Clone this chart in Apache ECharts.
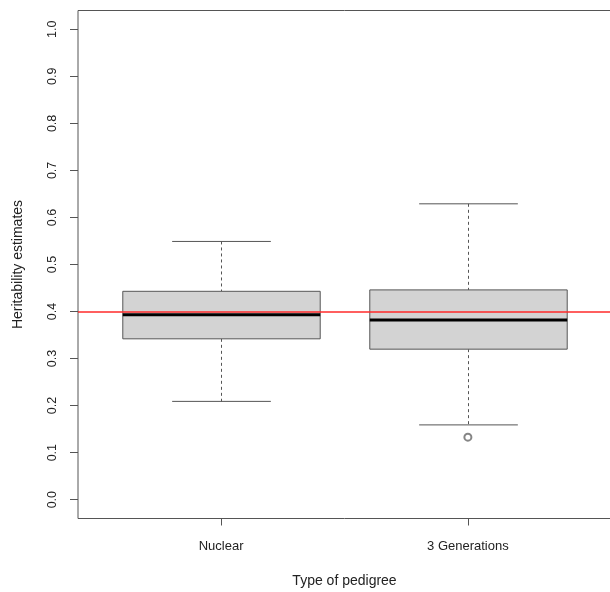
<!DOCTYPE html>
<html>
<head>
<meta charset="utf-8">
<script src="https://cdn.jsdelivr.net/npm/echarts@6/dist/echarts.min.js"></script>
<style>html,body{margin:0;padding:0;background:#fff}#c{width:610px;height:592px}</style>
</head>
<body>
<div id="c"></div>
<script>
var categories = ['Nuclear', '3 Generations'];
var whiskerLow = [0.209, 0.159];
var q1 = [0.342, 0.320];
var median = [0.393, 0.382];
var q3 = [0.443, 0.446];
var whiskerHigh = [0.549, 0.629];
var outliers = [[2, 0.133]];
var referenceValue = 0.4;
var yTicks = [0.0, 0.1, 0.2, 0.3, 0.4, 0.5, 0.6, 0.7, 0.8, 0.9, 1.0];

var boxData = categories.map(function (c, i) {
  return [i + 1, whiskerLow[i], q1[i], median[i], q3[i], whiskerHigh[i]];
});

var FONT = 'Liberation Sans, Arial, sans-serif';
var chart = echarts.init(document.getElementById('c'), null, {renderer: 'canvas'});

function renderBox(params, api) {
  var x = api.value(0);
  var lo = api.coord([x, api.value(1)]);
  var b1 = api.coord([x, api.value(2)]);
  var md = api.coord([x, api.value(3)]);
  var b3 = api.coord([x, api.value(4)]);
  var hi = api.coord([x, api.value(5)]);
  var bw = api.size([0.8, 0])[0];
  var cw = api.size([0.4, 0])[0];
  var cx = Math.round(lo[0]) + 0.5;
  var lineCol = '#555';
  return {
    type: 'group',
    children: [
      {type: 'line', shape: {x1: cx, y1: hi[1], x2: cx, y2: b3[1]}, style: {stroke: lineCol, lineWidth: 1, lineDash: [3, 3]}},
      {type: 'line', shape: {x1: cx, y1: b1[1], x2: cx, y2: lo[1]}, style: {stroke: lineCol, lineWidth: 1, lineDash: [3, 3]}},
      {type: 'line', shape: {x1: cx - cw / 2, y1: hi[1], x2: cx + cw / 2, y2: hi[1]}, style: {stroke: lineCol, lineWidth: 1}},
      {type: 'line', shape: {x1: cx - cw / 2, y1: lo[1], x2: cx + cw / 2, y2: lo[1]}, style: {stroke: lineCol, lineWidth: 1}},
      {type: 'rect', shape: {x: cx - bw / 2, y: b3[1], width: bw, height: b1[1] - b3[1]}, style: {fill: '#d3d3d3', stroke: lineCol, lineWidth: 1}},
      {type: 'line', shape: {x1: cx - bw / 2, y1: md[1], x2: cx + bw / 2, y2: md[1]}, style: {stroke: '#000', lineWidth: 3}}
    ]
  };
}

chart.setOption({
  animation: false,
  backgroundColor: '#fff',
  grid: {left: 78, top: 10.5, width: 533, height: 508, show: true, borderColor: '#555', borderWidth: 1,
         containLabel: false, outerBoundsMode: 'none'},
  xAxis: {
    type: 'value', min: 0.42, max: 2.58,
    axisLine: {show: false, onZero: false},
    splitLine: {show: false},
    axisTick: {show: true, customValues: [1, 2], length: 7, lineStyle: {color: '#555'}},
    axisLabel: {
      customValues: [1, 2], margin: 21, fontSize: 13, color: '#222', fontFamily: FONT,
      formatter: function (v) { return categories[Math.round(v) - 1] || ''; }
    },
    name: 'Type of pedigree', nameLocation: 'middle', nameGap: 56,
    nameTextStyle: {fontSize: 14, color: '#222', fontFamily: FONT}
  },
  yAxis: {
    type: 'value', min: -0.04, max: 1.04,
    axisLine: {show: false, onZero: false},
    splitLine: {show: false},
    axisTick: {show: true, customValues: yTicks, length: 8, lineStyle: {color: '#555'}},
    axisLabel: {
      customValues: yTicks, rotate: 90, margin: 19, fontSize: 12.5, color: '#222', fontFamily: FONT,
      formatter: function (v) { return v.toFixed(1); }
    },
    name: 'Heritability estimates', nameLocation: 'middle', nameRotate: 90, nameGap: 53,
    nameTextStyle: {fontSize: 14, color: '#222', fontFamily: FONT}
  },
  series: [
    {type: 'custom', renderItem: renderBox, data: boxData, encode: {x: 0, y: [1, 2, 3, 4, 5]}, z: 2},
    {type: 'scatter', data: outliers, symbol: 'emptyCircle', symbolSize: 7,
     itemStyle: {color: '#666', borderColor: '#666', borderWidth: 1}, z: 3,
     markLine: {silent: true, symbol: 'none', label: {show: false},
       lineStyle: {color: '#ff2a2a', width: 1.5, type: 'solid'},
       data: [{yAxis: referenceValue}]}}
  ]
});
</script>
</body>
</html>
